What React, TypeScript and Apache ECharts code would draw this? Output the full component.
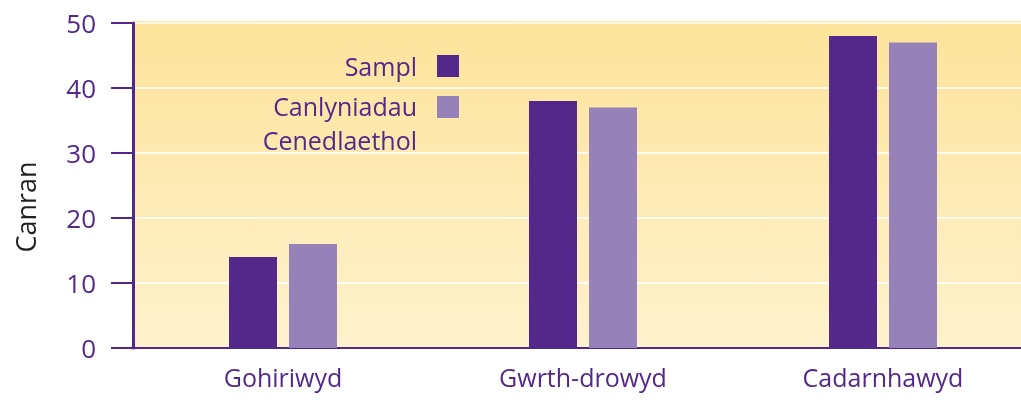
import React, { useEffect, useRef } from "react";
import * as echarts from "echarts";

const categories = ["Gohiriwyd", "Gwrth-drowyd", "Cadarnhawyd"];
const sampleValues = [14, 38, 48];
const nationalValues = [16, 37, 47];
const seriesNames = ["Sampl", "Canlyniadau\nCenedlaethol"];
const yAxisTitle = "Canran";
const yTicks = { min: 0, max: 50, interval: 10 };

const DARK = "#54288a";
const LIGHT = "#9682b8";
const FONT = "Open Sans";

export default function App() {
  const ref = useRef<HTMLDivElement>(null);
  useEffect(() => {
    document.body.style.margin = "0";
    document.body.style.overflow = "hidden";
    document.documentElement.style.overflow = "hidden";
    const chart = echarts.init(ref.current!, null, { renderer: "svg" });
    chart.setOption({
      animation: false,
      textStyle: { fontFamily: FONT },
      grid: {
        left: 133,
        right: 0,
        top: 23,
        bottom: 55,
        show: true,
        borderWidth: 0,
        backgroundColor: new echarts.graphic.LinearGradient(0, 0, 0, 1, [
          { offset: 0, color: "#fde39b" },
          { offset: 1, color: "#fef2cd" },
        ]),
      },
      xAxis: {
        type: "category",
        data: categories,
        axisLine: { lineStyle: { color: DARK, width: 2 } },
        axisTick: { show: false },
        axisLabel: { color: DARK, fontSize: 25, margin: 16, fontFamily: FONT },
      },
      yAxis: {
        type: "value",
        min: yTicks.min,
        max: yTicks.max,
        interval: yTicks.interval,
        axisLine: { show: true, lineStyle: { color: DARK, width: 3 } },
        axisTick: { show: true, length: 22, lineStyle: { color: DARK, width: 2 } },
        axisLabel: { color: DARK, fontSize: 26, margin: 37, fontFamily: FONT },
        splitLine: { lineStyle: { color: "#ffffff", width: 1.5 } },
      },
      series: [
        {
          name: seriesNames[0],
          type: "bar",
          data: sampleValues,
          barWidth: 48,
          barGap: "25%",
          itemStyle: { color: DARK },
        },
        {
          name: seriesNames[1],
          type: "bar",
          data: nationalValues,
          barWidth: 48,
          itemStyle: { color: LIGHT },
        },
      ],
      graphic: [
        {
          type: "rect",
          z: -10,
          shape: { x: 134, y: 21, width: 900, height: 3 },
          style: { fill: "#fde39b" },
        },
        {
          type: "text",
          x: 25,
          y: 207,
          rotation: Math.PI / 2,
          style: {
            text: yAxisTitle,
            align: "center",
            verticalAlign: "middle",
            fill: "#231f20",
            fontSize: 27,
            fontFamily: FONT,
          },
        },
        {
          type: "text",
          x: 417,
          y: 66,
          style: {
            text: seriesNames[0],
            align: "right",
            verticalAlign: "middle",
            fill: DARK,
            fontSize: 25,
            fontFamily: FONT,
          },
        },
        {
          type: "rect",
          shape: { x: 437, y: 55, width: 22, height: 22 },
          style: { fill: DARK },
        },
        {
          type: "text",
          x: 417,
          y: 89,
          style: {
            text: seriesNames[1],
            align: "right",
            verticalAlign: "top",
            lineHeight: 34,
            fill: DARK,
            fontSize: 25,
            fontFamily: FONT,
          },
        },
        {
          type: "rect",
          shape: { x: 437, y: 96, width: 22, height: 22 },
          style: { fill: LIGHT },
        },
      ],
    });
    return () => chart.dispose();
  }, []);
  return (
    <div
      ref={ref}
      style={{ position: "fixed", left: 0, top: 0, width: 1033, height: 403 }}
    />
  );
}
